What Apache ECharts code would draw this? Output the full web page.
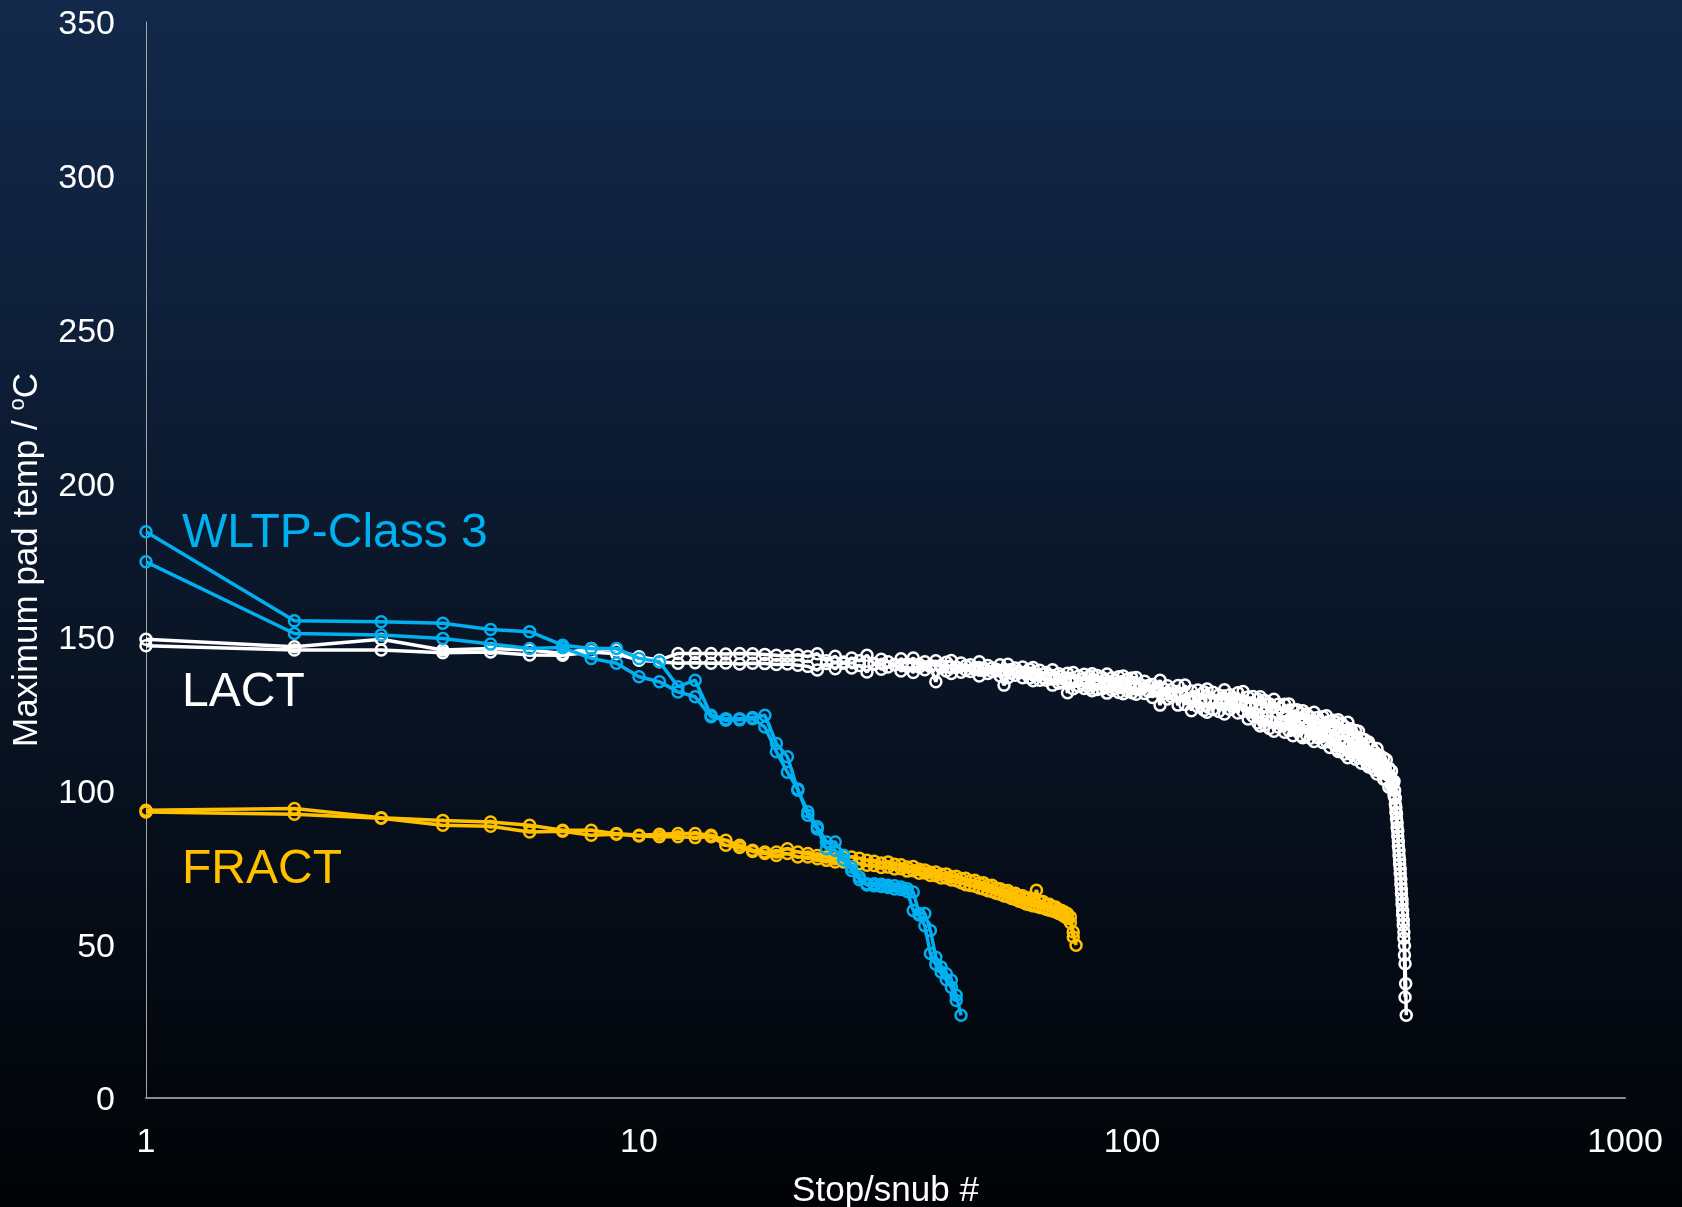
<!DOCTYPE html>
<html>
<head>
<meta charset="utf-8">
<script src="https://cdn.jsdelivr.net/npm/echarts/dist/echarts.min.js"></script>
<style>
html,body{margin:0;padding:0;background:#000;}
#chart{width:1682px;height:1207px;}
</style>
</head>
<body>
<div id="chart"></div>
<script>
// ---------- DATA ----------
// stop/snub numbers (x values) shared by all runs
const stopNumbers = [
1,2,3,4,5,6,7,8,9,10,11,12,13,14,15,16,17,18,19,20,21,22,23,24,25,26,27,28,29,30,
31,32,33,34,35,36,37,38,39,40,41,42,43,44,45,46,47,48,49,50,51,52,53,54,55,56,57,58,59,60,
61,62,63,64,65,66,67,68,69,70,71,72,73,74,75,76,77,78,79,80,81,82,83,84,85,86,87,88,89,90,
91,92,93,94,95,96,97,98,99,100,
102,104,106,108,110,112,114,116,118,120,122,124,126,128,130,132,134,136,138,140,
142,144,146,148,150,152,154,156,158,160,162,164,166,168,170,172,174,176,178,180,
182,184,186,188,190,192,194,196,198,200,202,204,206,208,210,212,214,216,218,220,
222,224,226,228,230,232,234,236,238,240,242,244,246,248,250,252,254,256,258,260,
262,264,266,268,270,272,274,276,278,280,282,284,286,288,290,292,294,296,298,300,
302,304,306,308,310,312,314,316,318,320,322,324,326,328,330,332,334,336,338,340,
341,342,343,344,345,346,347,348,349,350,351,352,353,354,355,356,357,358,359,360
];

// WLTP-Class 3 (blue), two runs, stops 1..45 / 1..44
const wltpRun1 = [184.2,155.2,154.9,154.4,152.4,151.7,147.3,146.2,146.2,143.0,141.9,133.8,135.9,124.5,123.4,123.4,123.8,124.5,115.3,111.0,100.1,93.1,88.2,83.3,83.3,79.0,75.1,71.9,69.7,69.7,69.5,69.2,69.0,68.6,68.1,67.0,60.0,60.0,54.5,45.8,42.6,40.4,38.3,33.4,26.9];
const wltpRun2 = [174.4,151.1,150.6,149.5,147.7,146.2,146.5,143.0,141.4,137.0,135.4,132.1,130.5,124.0,122.9,123.0,123.4,120.7,112.6,106.0,100.5,92.0,87.5,81.1,80.5,77.5,74.0,71.0,69.3,69.0,68.8,68.5,68.0,67.8,67.2,61.0,59.5,56.0,47.0,43.5,41.0,38.5,36.0,31.7];

// FRACT (orange), two runs, stops 1..77 / 1..76
const fractRun1 = [93.6,94.2,91.2,90.3,89.8,88.7,87.1,87.1,86.0,85.5,85.8,86.0,86.0,85.5,83.8,82.2,80.6,80.0,80.0,81.1,
80.0,79.5,78.9,78.4,77.8,78.4,78.4,78.0,77.3,77.0,76.4,76.8,76.0,75.9,75.1,75.3,74.4,74.2,73.4,73.5,
72.8,72.9,72.0,72.1,71.4,71.5,70.7,70.8,69.9,70.0,69.1,69.2,68.3,68.1,67.4,67.5,66.6,66.6,65.8,65.8,
65.0,65.1,64.4,67.6,63.8,63.9,63.0,63.0,62.2,62.1,61.3,61.0,60.5,59.9,58.9,54.0,49.7];
const fractRun2 = [93.0,92.3,91.0,88.7,88.4,86.5,86.8,85.5,85.8,85.2,85.0,85.0,84.7,85.0,82.2,81.5,80.2,79.5,78.9,79.5,
78.4,78.4,77.8,77.3,76.8,76.8,76.8,76.2,75.7,75.6,75.0,75.1,74.5,74.6,73.8,73.9,73.1,73.2,72.4,72.3,
71.6,71.6,70.9,70.7,70.0,69.4,69.1,68.9,68.3,68.0,67.4,67.2,66.6,66.3,65.7,65.5,64.9,64.6,64.0,63.7,
63.1,62.9,62.5,62.4,62.0,61.8,61.4,61.1,60.8,60.5,60.0,59.6,59.0,58.4,57.0,52.4];

// LACT (white), two runs over stopNumbers (run 2 ends at stop 358)
const lactRun1 = [
149.2,146.8,149.2,145.7,146.2,145.7,144.6,146.2,145.7,143.5,
142.4,144.6,144.6,144.6,144.4,144.6,144.5,144.3,144.0,143.8,
144.2,143.6,144.5,142.2,143.7,141.4,143.1,142.2,144.0,141.1,
142.7,141.9,140.9,142.9,141.2,143.1,140.2,141.9,140.7,142.2,
140.0,141.7,142.3,140.0,141.5,139.2,140.9,140.0,141.9,139.1,
140.7,139.9,138.9,140.9,139.2,141.1,138.2,139.9,138.7,140.2,
137.9,139.5,140.0,137.6,139.1,136.7,138.4,137.4,139.3,136.4,
138.0,137.2,136.2,138.2,136.5,138.4,135.6,137.3,136.2,137.8,
135.6,137.3,138.0,135.8,137.4,135.1,136.8,136.0,137.9,135.1,
136.7,135.9,135.0,137.0,135.4,137.3,134.5,136.2,135.1,136.6,
136.8,133.4,135.6,132.2,134.5,133.2,135.9,131.6,134.1,132.8,
131.3,134.2,131.5,134.3,129.8,132.4,130.5,132.7,129.6,132.1,
133.0,129.7,132.0,128.7,131.1,130.0,132.8,128.6,131.2,130.1,
128.7,131.8,129.3,132.2,127.8,130.4,128.5,130.6,127.3,129.7,
130.5,127.1,129.3,125.9,128.2,127.0,129.7,125.5,128.1,126.8,
125.2,128.1,125.4,128.2,123.6,126.2,124.2,126.3,123.0,125.1,
126.0,122.6,124.9,121.5,123.9,122.7,125.5,121.2,123.8,122.5,
121.0,124.0,121.4,124.3,119.9,122.5,120.7,122.9,119.7,122.2,
123.0,119.6,121.9,118.5,120.8,119.5,122.2,117.8,120.1,118.6,
116.9,119.5,116.7,119.3,114.6,116.9,114.8,116.6,113.0,115.2,
115.8,112.2,114.2,110.6,112.7,111.2,113.7,109.2,111.5,109.8,
108.0,110.6,107.6,110.0,105.1,107.3,104.8,106.4,102.5,103.0,
100.0,97.5,94.5,92.5,89.5,86.8,83.6,80.5,77.5,74.6,
71.2,68.0,64.6,61.0,57.8,54.0,49.5,43.7,37.2,26.9
];
const lactRun2 = [
147.1,145.7,145.7,144.8,145.1,144.1,144.0,145.1,144.5,142.4,
141.9,141.4,141.6,141.4,141.5,141.2,141.4,141.3,141.0,141.2,
140.8,140.4,139.2,141.3,139.6,141.8,139.9,140.7,138.6,141.3,
139.5,140.2,141.0,138.9,140.4,138.4,141.1,139.3,140.3,135.4,
140.7,138.9,138.1,140.2,138.5,140.6,138.7,139.4,137.3,139.9,
138.1,138.7,139.5,137.3,134.3,136.7,139.4,137.5,138.5,136.7,
138.6,136.6,135.7,137.7,135.9,137.9,135.9,136.5,134.3,136.8,
134.9,135.4,136.1,131.8,135.2,133.1,135.8,133.9,134.9,133.2,
135.2,133.3,132.5,134.6,132.9,135.0,133.1,133.8,131.7,134.3,
132.6,133.2,134.1,131.9,133.5,131.5,134.2,132.4,133.5,131.8,
131.3,134.5,131.6,134.2,130.3,132.4,127.8,133.1,129.8,130.6,
131.1,127.8,131.1,128.0,129.9,126.0,129.9,127.3,128.5,126.1,
125.5,129.0,126.4,129.3,125.7,128.1,124.9,129.4,126.4,127.5,
128.3,125.2,128.9,125.7,127.5,123.3,127.0,124.1,124.9,122.0,
121.0,124.1,121.3,123.9,120.2,122.5,119.3,123.7,120.7,121.6,
122.2,119.0,122.5,119.5,121.6,117.8,121.9,119.3,120.4,117.8,
117.2,120.5,117.9,120.6,117.0,119.2,116.0,120.3,117.3,118.3,
118.9,115.6,119.0,115.9,117.9,114.0,117.9,115.2,116.2,113.5,
112.7,115.9,113.1,115.7,111.9,114.0,110.7,115.0,111.9,112.8,
113.4,110.2,113.7,110.7,112.7,108.9,112.9,110.2,111.2,108.5,
107.7,110.8,108.0,110.6,106.7,108.8,105.4,109.5,106.3,106.9,
107.2,103.7,106.9,103.5,105.3,101.1,104.6,101.4,101.9,98.5,
97.8,95.6,93.0,90.8,88.0,85.2,82.0,79.0,76.0,73.0,
69.6,66.4,63.0,59.6,56.2,52.0,46.5,32.8
];

const yTickValues = [0,50,100,150,200,250,300,350];
const xTickLabels = ['1','10','100','1000'];
const seriesLabels = ['WLTP-Class 3','LACT','FRACT'];

// ---------- CHART ----------
const FONT = '"Liberation Sans", Arial, Helvetica, sans-serif';
const BLUE = '#00b0f0', ORANGE = '#ffc000', WHITE = '#ffffff';

function pairs(stops, vals){
  const out = [];
  for (let i = 0; i < vals.length; i++) out.push([stops[i], vals[i]]);
  return out;
}
function run(name, vals, color, z){
  return {
    name: name, type: 'line', data: pairs(stopNumbers, vals), z: z,
    symbol: 'circle', symbolSize: 11,
    itemStyle: {color: 'rgba(0,0,0,0)', borderColor: color, borderWidth: 2.5},
    lineStyle: {color: color, width: 3.5},
    emphasis: {disabled: true}, silent: true, clip: false
  };
}

const chart = echarts.init(document.getElementById('chart'), null, {renderer: 'canvas'});
chart.setOption({
  animation: false,
  backgroundColor: {
    type: 'linear', x: 0, y: 0, x2: 0, y2: 1,
    colorStops: [
      {offset: 0, color: '#13294b'},
      {offset: 0.45, color: '#0b182c'},
      {offset: 1, color: '#010306'}
    ]
  },
  grid: {left: 146, right: 57, top: 22, bottom: 109, containLabel: false, outerBoundsMode: 'none'},
  xAxis: {
    type: 'log', logBase: 10, min: 1, max: 1000,
    name: 'Stop/snub #', nameLocation: 'middle', nameGap: 76,
    nameTextStyle: {color: WHITE, fontSize: 35, fontFamily: FONT},
    axisLine: {show: true, lineStyle: {color: '#8c8c8c', width: 2}},
    axisTick: {show: false},
    splitLine: {show: false},
    minorTick: {show: false},
    axisLabel: {
      color: WHITE, fontSize: 34, fontFamily: FONT, margin: 28,
      showMinLabel: true, showMaxLabel: true,
      formatter: function(v){
        const i = Math.round(Math.log10(v));
        return xTickLabels[i] !== undefined ? xTickLabels[i] : '';
      }
    }
  },
  yAxis: {
    type: 'value', min: yTickValues[0], max: yTickValues[yTickValues.length-1], interval: 50,
    name: 'Maximum pad temp / {sup|o}C', nameLocation: 'middle', nameGap: 96, nameRotate: 90,
    nameTextStyle: {
      color: WHITE, fontSize: 35, fontFamily: FONT, lineHeight: 40,
      rich: {sup: {color: WHITE, fontSize: 22, fontFamily: FONT, lineHeight: 22, verticalAlign: 'top'}}
    },
    axisLine: {show: true, lineStyle: {color: '#a6a6a6', width: 1}},
    axisTick: {show: false},
    splitLine: {show: false},
    axisLabel: {
      color: WHITE, fontSize: 34, fontFamily: FONT, margin: 31,
      formatter: '{t|{value}}',
      rich: {t: {color: WHITE, fontSize: 34, fontFamily: FONT, padding: [6, 0, 0, 0]}}
    }
  },
  graphic: [
    {type: 'text', left: 182, top: 510, silent: true,
     style: {text: seriesLabels[0], fill: BLUE, fontSize: 48, fontFamily: FONT}},
    {type: 'text', left: 182, top: 669, silent: true,
     style: {text: seriesLabels[1], fill: WHITE, fontSize: 48, fontFamily: FONT}},
    {type: 'text', left: 182, top: 846, silent: true,
     style: {text: seriesLabels[2], fill: ORANGE, fontSize: 48, fontFamily: FONT}}
  ],
  series: [
    run('LACT run 1', lactRun1, WHITE, 2),
    run('LACT run 2', lactRun2, WHITE, 2),
    run('FRACT run 1', fractRun1, ORANGE, 3),
    run('FRACT run 2', fractRun2, ORANGE, 3),
    run('WLTP run 1', wltpRun1, BLUE, 4),
    run('WLTP run 2', wltpRun2, BLUE, 4)
  ]
});
</script>
</body>
</html>
